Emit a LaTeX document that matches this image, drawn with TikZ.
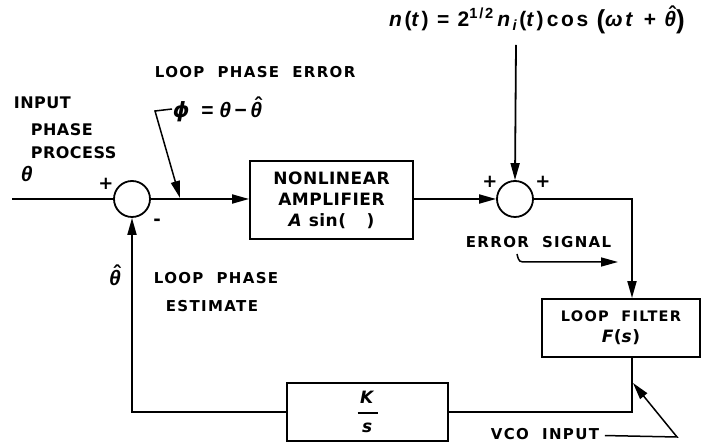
\documentclass[tikz,border=0pt]{standalone}
\usepackage{fontspec}
\setmainfont{DejaVu Sans}[LetterSpace=3]
\newfontfamily\widef{DejaVu Sans}[LetterSpace=9,WordSpace=2]
\newfontfamily\mathf{Liberation Sans}[LetterSpace=12]
\newfontfamily\djv{DejaVu Sans}
\usetikzlibrary{arrows.meta}
\newcommand\vi[1]{\textit{#1}}
\newcommand\phii{{\djv\bfseries\itshape ϕ}}
\newcommand\thh{\leavevmode\vbox{\offinterlineskip\halign{\hfil##\hfil\cr \hskip0.2em ˆ\cr\noalign{\kern-0.5em}\itshape θ\cr}}}
\newcommand\bigp[1]{\raisebox{-2pt}{\fontsize{26}{26}\selectfont #1}}
\begin{document}
\begin{tikzpicture}[x=1pt,y=-1pt,line width=1.8pt,
  every node/.style={font=\fontsize{16}{19}\selectfont\bfseries},
  widelbl/.style={font=\widef\fontsize{15}{20}\selectfont\bfseries},
  mathtxt/.style={font=\mathf\fontsize{21}{24}\selectfont\bfseries},
  signtxt/.style={inner sep=0pt,font=\fontsize{18}{20}\selectfont\bfseries},
  sumnode/.style={draw,circle,minimum size=36pt,inner sep=0pt},
  blocknode/.style={draw,rectangle,inner sep=0pt,align=center},
  arr/.style={-{Triangle[length=17pt,width=9pt]}},
  lbl/.style={inner sep=0pt,anchor=west},
  txt/.style={inner sep=0pt}]
\useasboundingbox (0,0) rectangle (716,443);

% summing junctions and blocks
\node[sumnode] (sum1) at (132,199) {};
\node[sumnode] (sum2) at (515,199) {};
\node[blocknode,minimum width=163pt,minimum height=78pt,font=\fontsize{17}{21}\selectfont\bfseries] (nla) at (331.5,200)
  {NONLINEAR\\AMPLIFIER\\\vi{A} sin(\hskip1.2em)};
\node[blocknode,minimum width=158pt,minimum height=58pt] (lf) at (621,328)
  {{\widef\fontsize{14.5}{19}\selectfont LOOP FILTER}\\[2pt]{\fontsize{17}{19}\selectfont\vi{F}(\vi{s})}};
\node[blocknode,minimum width=161pt,minimum height=58pt,font=\fontsize{17}{19}\selectfont\bfseries] (ks) at (367.5,412)
  {\vi{K}\\[-4pt]\rule[5pt]{20pt}{1.6pt}\\[-5pt]\vi{s}};

% coordinates
\coordinate (in) at (12,199);
\coordinate (ntop) at (516,45);
\coordinate (c1) at (632,199);
\coordinate (c2) at (632,412);
\coordinate (c3) at (132,412);

% main connectors
\draw (in) -- (sum1.west);
\draw[arr] (sum1.east) -- (nla.west |- sum1.east);
\draw[arr] (nla.east |- sum2.west) -- (sum2.west);
\draw[arr] (ntop) -- (sum2.north);
\draw[arr] (sum2.east) -- (c1) -- (c1 |- lf.north);
\draw (c1 |- lf.south) -- (c2) -- (ks.east);
\draw[arr] (ks.west) -- (c3) -- (sum1.south);

% labels
\node[lbl] at (13,103) {INPUT};
\node[lbl] at (30,130) {PHASE};
\node[lbl] at (30,153) {PROCESS};
\node[txt,mathtxt] at (28,174) {\vi{θ}};
\node[signtxt] at (106,184) {+};
\node[signtxt] at (157,222) {-};
\node[lbl,widelbl] (lpe) at (154,72) {LOOP PHASE ERROR};
\node[lbl,mathtxt,font=\mathf\fontsize{21}{24}\selectfont\bfseries\addfontfeature{LetterSpace=0}] (phi) at (172,109) {\phii\ \ = \vi{θ}\,−\,\thh};
\coordinate (pk) at (155,111);
\coordinate (ptip) at (180,198);
\draw[arr,line width=1.5pt] (phi.west) -- (pk) -- (ptip);

\node[txt,mathtxt] (noise) at (537,20)
  {\vi{n}(\vi{t}) = 2\textsuperscript{1/2}\,\vi{n}\textsubscript{\vi{i}}(\vi{t})\,cos \bigp{(}\vi{ωt} + \thh\bigp{)}};
\node[signtxt] at (490,182) {+};
\node[signtxt] at (543,182) {+};

\node[lbl,widelbl] (err) at (465,242) {ERROR SIGNAL};
\coordinate (e0) at (517,254);
\coordinate (e1) at (618,262);
\draw[arr,line width=1.5pt] (e0) .. controls (519,262) .. (527,262) -- (e1);

\node[txt,mathtxt] at (115,275) {\thh};
\node[lbl,widelbl] at (153,278) {LOOP PHASE};
\node[lbl,widelbl] at (165,306) {ESTIMATE};

\node[lbl,widelbl,anchor=base west] (vco) at (490,440) {VCO INPUT};
\coordinate (v1) at (677,437);
\coordinate (v2) at (633,383);
\draw[arr,line width=1.5pt] ([xshift=5pt,yshift=-1pt]vco.east) -- (v1) -- (v2);
\end{tikzpicture}
\end{document}
